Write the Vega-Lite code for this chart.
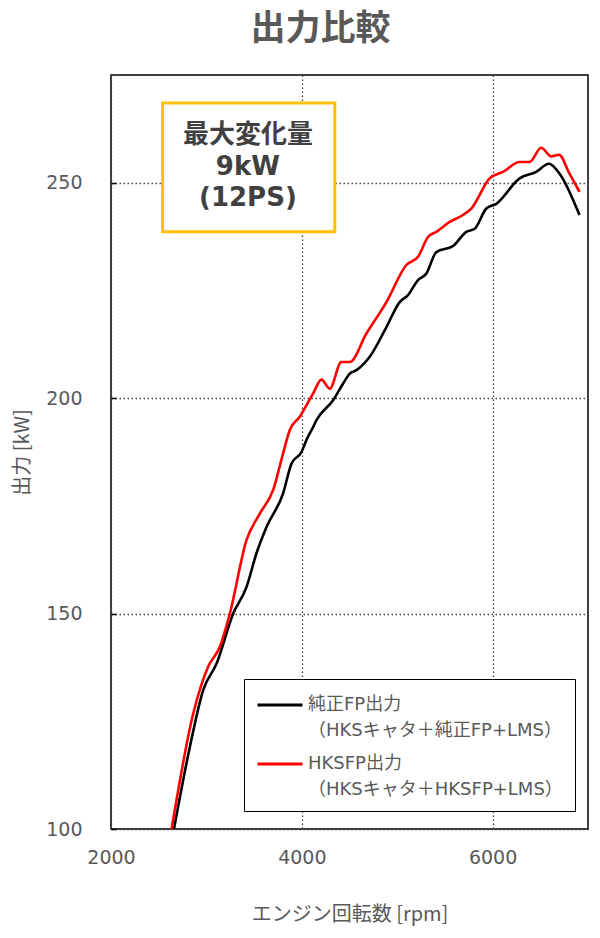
{
  "$schema": "https://vega.github.io/schema/vega-lite/v6.json",
  "autosize": {"type": "none"},
  "padding": {"left": 111, "top": 75, "right": 12, "bottom": 109},
  "width": 477,
  "height": 754,
  "background": "white",
  "title": {
    "text": "出力比較",
    "font": "Noto Sans CJK JP",
    "fontSize": 35,
    "fontWeight": "bold",
    "color": "#595959",
    "anchor": "middle",
    "dx": -29,
    "offset": 28
  },
  "datasets": {
    "curves": [
      {"series": "純正FP出力", "rpm": 2660, "kW": 100.0},
      {"series": "純正FP出力", "rpm": 2827, "kW": 119.1},
      {"series": "純正FP出力", "rpm": 2967, "kW": 132.3},
      {"series": "純正FP出力", "rpm": 3107, "kW": 138.4},
      {"series": "純正FP出力", "rpm": 3281, "kW": 150.0},
      {"series": "純正FP出力", "rpm": 3421, "kW": 156.2},
      {"series": "純正FP出力", "rpm": 3525, "kW": 164.0},
      {"series": "純正FP出力", "rpm": 3630, "kW": 170.1},
      {"series": "純正FP出力", "rpm": 3804, "kW": 177.9},
      {"series": "純正FP出力", "rpm": 3892, "kW": 184.8},
      {"series": "純正FP出力", "rpm": 3997, "kW": 187.5},
      {"series": "純正FP出力", "rpm": 4049, "kW": 190.3},
      {"series": "純正FP出力", "rpm": 4119, "kW": 193.3},
      {"series": "純正FP出力", "rpm": 4154, "kW": 194.9},
      {"series": "純正FP出力", "rpm": 4328, "kW": 199.5},
      {"series": "純正FP出力", "rpm": 4433, "kW": 203.4},
      {"series": "純正FP出力", "rpm": 4503, "kW": 205.7},
      {"series": "純正FP出力", "rpm": 4573, "kW": 206.5},
      {"series": "純正FP出力", "rpm": 4712, "kW": 209.6},
      {"series": "純正FP出力", "rpm": 4887, "kW": 216.5},
      {"series": "純正FP出力", "rpm": 5026, "kW": 222.3},
      {"series": "純正FP出力", "rpm": 5113, "kW": 223.9},
      {"series": "純正FP出力", "rpm": 5218, "kW": 227.4},
      {"series": "純正FP出力", "rpm": 5305, "kW": 228.9},
      {"series": "純正FP出力", "rpm": 5410, "kW": 233.9},
      {"series": "純正FP出力", "rpm": 5585, "kW": 235.3},
      {"series": "純正FP出力", "rpm": 5724, "kW": 238.6},
      {"series": "純正FP出力", "rpm": 5812, "kW": 239.3},
      {"series": "純正FP出力", "rpm": 5934, "kW": 244.0},
      {"series": "純正FP出力", "rpm": 6039, "kW": 245.1},
      {"series": "純正FP出力", "rpm": 6283, "kW": 251.0},
      {"series": "純正FP出力", "rpm": 6457, "kW": 252.5},
      {"series": "純正FP出力", "rpm": 6590, "kW": 254.4},
      {"series": "純正FP出力", "rpm": 6702, "kW": 252.1},
      {"series": "純正FP出力", "rpm": 6911, "kW": 242.5},
      {"series": "HKSFP出力", "rpm": 2635, "kW": 100.0},
      {"series": "HKSFP出力", "rpm": 2862, "kW": 126.8},
      {"series": "HKSFP出力", "rpm": 3019, "kW": 137.7},
      {"series": "HKSFP出力", "rpm": 3141, "kW": 142.3},
      {"series": "HKSFP出力", "rpm": 3246, "kW": 150.0},
      {"series": "HKSFP出力", "rpm": 3421, "kW": 167.1},
      {"series": "HKSFP出力", "rpm": 3560, "kW": 173.2},
      {"series": "HKSFP出力", "rpm": 3700, "kW": 178.7},
      {"series": "HKSFP出力", "rpm": 3804, "kW": 187.2},
      {"series": "HKSFP出力", "rpm": 3874, "kW": 192.6},
      {"series": "HKSFP出力", "rpm": 3979, "kW": 195.7},
      {"series": "HKSFP出力", "rpm": 4119, "kW": 201.1},
      {"series": "HKSFP出力", "rpm": 4206, "kW": 204.3},
      {"series": "HKSFP出力", "rpm": 4293, "kW": 202.2},
      {"series": "HKSFP出力", "rpm": 4415, "kW": 208.4},
      {"series": "HKSFP出力", "rpm": 4503, "kW": 208.4},
      {"series": "HKSFP出力", "rpm": 4677, "kW": 215.0},
      {"series": "HKSFP出力", "rpm": 4887, "kW": 222.3},
      {"series": "HKSFP出力", "rpm": 5096, "kW": 230.9},
      {"series": "HKSFP出力", "rpm": 5218, "kW": 232.8},
      {"series": "HKSFP出力", "rpm": 5323, "kW": 237.4},
      {"series": "HKSFP出力", "rpm": 5410, "kW": 238.6},
      {"series": "HKSFP出力", "rpm": 5550, "kW": 240.9},
      {"series": "HKSFP出力", "rpm": 5689, "kW": 242.5},
      {"series": "HKSFP出力", "rpm": 5777, "kW": 244.0},
      {"series": "HKSFP出力", "rpm": 5969, "kW": 251.0},
      {"series": "HKSFP出力", "rpm": 6108, "kW": 252.5},
      {"series": "HKSFP出力", "rpm": 6283, "kW": 254.8},
      {"series": "HKSFP出力", "rpm": 6387, "kW": 254.8},
      {"series": "HKSFP出力", "rpm": 6510, "kW": 258.1},
      {"series": "HKSFP出力", "rpm": 6615, "kW": 256.1},
      {"series": "HKSFP出力", "rpm": 6695, "kW": 256.5},
      {"series": "HKSFP出力", "rpm": 6806, "kW": 252.1},
      {"series": "HKSFP出力", "rpm": 6911, "kW": 247.9}
    ],
    "box": [
      {"rpm": 2541, "rpm2": 4346, "kW": 268.5, "kW2": 238.6}
    ],
    "note": [
      {"rpm": 3435, "kW": 261.0, "label": "最大変化量\n9kW\n(12PS)"}
    ]
  },
  "encoding": {
    "x": {
      "field": "rpm",
      "type": "quantitative",
      "scale": {"domain": [2000, 7000], "nice": false, "zero": false},
      "axis": {
        "title": "エンジン回転数 [rpm]",
        "values": [2000, 4000, 6000],
        "format": "d",
        "ticks": false,
        "domain": false,
        "labelPadding": 28,
        "labelFontSize": 19,
        "labelColor": "#595959",
        "labelFont": "DejaVu Sans, Noto Sans CJK JP",
        "labelFlush": false,
        "labelOverlap": false,
        "labelBaseline": "middle",
        "titleFont": "Noto Sans CJK JP",
        "titleFontSize": 20,
        "titleFontWeight": "normal",
        "titleColor": "#595959",
        "titleBaseline": "middle",
        "titleY": 85,
        "gridColor": "#404040",
        "gridDash": [1.5, 2.5],
        "gridWidth": 1.3,
        "gridOpacity": 1
      }
    },
    "y": {
      "field": "kW",
      "type": "quantitative",
      "scale": {"domain": [100, 275], "nice": false, "zero": false},
      "axis": {
        "title": "出力 [kW]",
        "values": [100, 150, 200, 250],
        "tickSize": -5,
        "tickColor": "black",
        "tickWidth": 1.5,
        "domain": false,
        "labelPadding": 34,
        "labelFontSize": 19,
        "labelColor": "#595959",
        "labelFont": "DejaVu Sans, Noto Sans CJK JP",
        "labelFlush": false,
        "labelOverlap": false,
        "titleFont": "Noto Sans CJK JP",
        "titleFontSize": 20,
        "titleFontWeight": "normal",
        "titleColor": "#595959",
        "titleBaseline": "middle",
        "titleX": -89,
        "gridColor": "#404040",
        "gridDash": [1.5, 2.5],
        "gridWidth": 1.3,
        "gridOpacity": 1
      }
    }
  },
  "layer": [
    {
      "data": {"name": "box"},
      "mark": {"type": "rect", "fill": "white", "stroke": "#FFC000", "strokeWidth": 3},
      "encoding": {
        "x2": {"field": "rpm2"},
        "y2": {"field": "kW2"}
      }
    },
    {
      "data": {"name": "note"},
      "mark": {
        "type": "text",
        "font": "DejaVu Sans, Noto Sans CJK JP",
        "fontSize": 26,
        "fontWeight": "bold",
        "color": "#404040",
        "align": "center",
        "baseline": "middle",
        "lineBreak": "\n",
        "lineHeight": 31.5
      },
      "encoding": {
        "text": {"field": "label", "type": "nominal"}
      }
    },
    {
      "data": {"name": "curves"},
      "mark": {"type": "line", "interpolate": "monotone", "strokeWidth": 2.6},
      "encoding": {
        "color": {
          "field": "series",
          "type": "nominal",
          "sort": ["純正FP出力", "HKSFP出力"],
          "scale": {"domain": ["純正FP出力", "HKSFP出力"], "range": ["#000000", "#FF0000"]},
          "legend": {
            "title": null,
            "orient": "none",
            "legendX": 133,
            "legendY": 604,
            "strokeColor": "black",
            "fillColor": "white",
            "padding": 12,
            "symbolType": "M-1,-0.44L1,-0.44",
            "symbolSize": 2025,
            "symbolStrokeWidth": 3,
            "labelFont": "DejaVu Sans, Noto Sans CJK JP",
            "labelFontSize": 18,
            "labelColor": "#595959",
            "labelLimit": 400,
            "labelBaseline": "top",
            "labelExpr": "datum.label == '純正FP出力' ? ['純正FP出力', '（HKSキャタ＋純正FP+LMS）'] : ['HKSFP出力', '（HKSキャタ＋HKSFP+LMS）']",
            "rowPadding": 10,
            "encode": {
              "labels": {"update": {"dy": {"value": -19}, "lineHeight": {"value": 26}}}
            }
          }
        }
      }
    }
  ],
  "config": {
    "view": {"stroke": "black", "strokeWidth": 1.5}
  }
}
